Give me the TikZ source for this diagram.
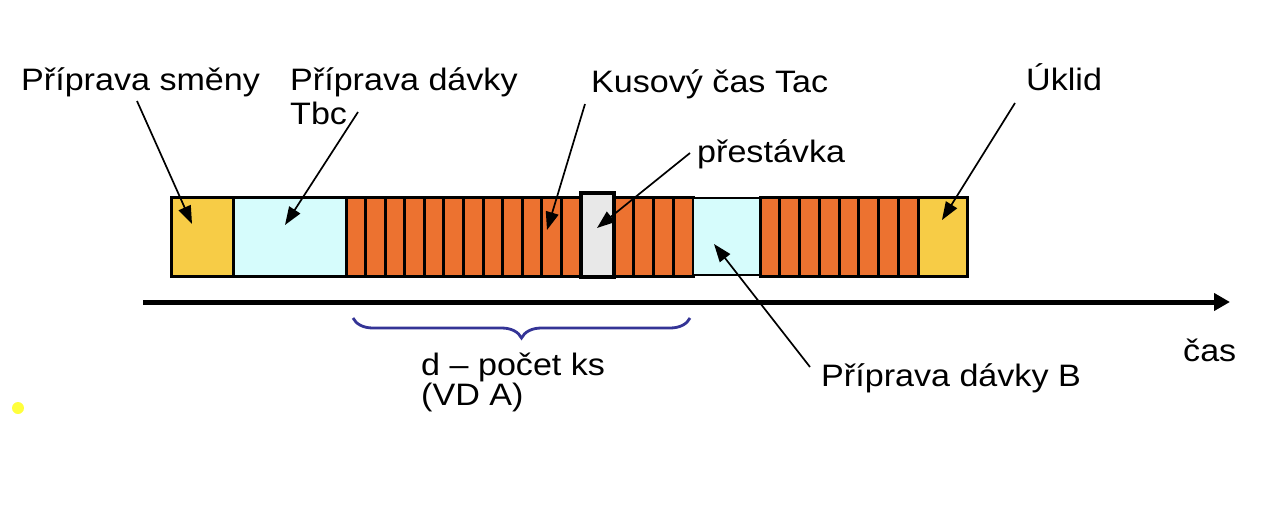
\documentclass[tikz,border=0pt]{standalone}
\usepackage{fontspec}
\setmainfont{Liberation Sans}[FakeStretch=1.1]
\usetikzlibrary{arrows.meta,decorations.pathreplacing}
\definecolor{cYel}{RGB}{247,204,70}
\definecolor{cCyan}{RGB}{214,252,252}
\definecolor{cOr}{RGB}{236,114,48}
\definecolor{cGray}{RGB}{232,232,232}
\definecolor{cBrace}{RGB}{52,52,150}
\definecolor{cDot}{RGB}{255,255,60}
\begin{document}
\begin{tikzpicture}[x=1pt,y=1pt,
  lbl/.style={inner sep=0pt, anchor=base west, font=\fontsize{31}{35}\selectfont},
  cell/.style={draw=black, line width=3pt},
  ptr/.style={line width=1.7pt, -{Triangle[length=18pt,width=13pt]}},
]
\useasboundingbox (0,0) rectangle (1282,-506);

% bar segments
\draw[cell, fill=cYel] (171,-197) rectangle (233,-276);
\draw[cell, fill=cCyan] (233,-197) rectangle (346,-276);
\foreach \i in {0,...,11}
  \draw[cell, fill=cOr] ({346+\i*19.58},-197) rectangle ({346+(\i+1)*19.58},-276);
\foreach \i in {0,...,3}
  \draw[cell, fill=cOr] ({614+\i*19.75},-197) rectangle ({614+(\i+1)*19.75},-276);
\draw[draw=black, line width=2pt, fill=cCyan] (693,-198) rectangle (760,-275);
\foreach \i in {0,...,7}
  \draw[cell, fill=cOr] ({760+\i*19.75},-197) rectangle ({760+(\i+1)*19.75},-276);
\draw[cell, fill=cYel] (918,-197) rectangle (967,-276);
\draw[draw=black, line width=3.5pt, fill=cGray] (581,-193) rectangle (614,-277);

% time axis
\coordinate (axL) at (143,-302);
\coordinate (axR) at (1230,-302);
\draw[line width=5pt, -{Triangle[length=16pt,width=17pt]}] (axL) -- (axR);

% brace
\coordinate (brR) at (690,-318);
\coordinate (brL) at (353,-318);
\draw[cBrace, line width=2.8pt, decorate, decoration={brace, amplitude=20pt}] (brR) -- (brL);

% yellow dot
\fill[cDot] (18,-408) circle (6);

% labels
\node[lbl] (smeny) at (21,-90) {Příprava směny};
\node[lbl] (tbc1) at (290,-90.5) {Příprava dávky};
\node[lbl] (tbc2) at (290,-124.3) {Tbc};
\node[lbl] (tac) at (591,-92) {Kusový čas Tac};
\node[lbl] (uklid) at (1026,-90) {Úklid};
\node[lbl] (prest) at (697,-162) {přestávka};
\node[lbl] (cas) at (1183,-361.5) {čas};
\node[lbl] (davkaB) at (821,-386.5) {Příprava dávky B};
\node[lbl] (pocet1) at (421,-375) {d – počet ks};
\node[lbl] (pocet2) at (421,-405.5) {(VD A)};

% pointer arrows
\coordinate (a1s) at (137,-101); \coordinate (a1e) at (192,-224);
\coordinate (a2s) at (358,-112); \coordinate (a2e) at (285,-225);
\coordinate (a3s) at (585,-104); \coordinate (a3e) at (547,-230);
\coordinate (a4s) at (690,-153); \coordinate (a4e) at (597,-228);
\coordinate (a5s) at (1015,-103); \coordinate (a5e) at (942,-220);
\coordinate (a6s) at (810,-367); \coordinate (a6e) at (714,-244);
\draw[ptr] (a1s) -- (a1e);
\draw[ptr] (a2s) -- (a2e);
\draw[ptr] (a3s) -- (a3e);
\draw[ptr] (a4s) -- (a4e);
\draw[ptr] (a5s) -- (a5e);
\draw[ptr] (a6s) -- (a6e);
\end{tikzpicture}
\end{document}
